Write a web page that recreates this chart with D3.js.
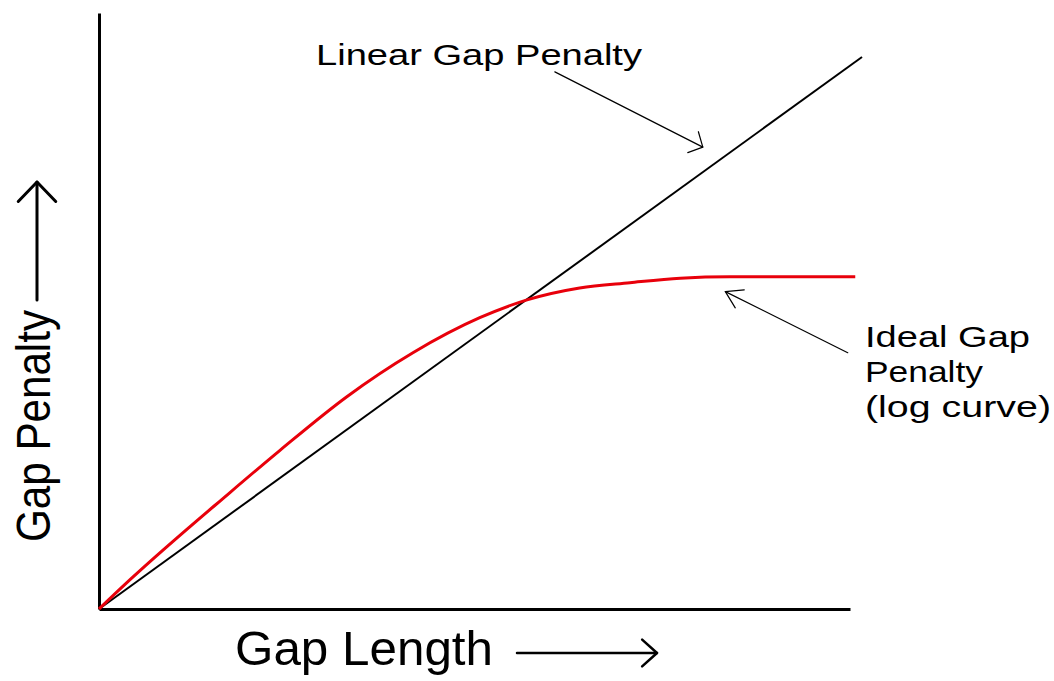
<!DOCTYPE html>
<html>
<head>
<meta charset="utf-8">
<script src="https://cdn.jsdelivr.net/npm/d3@7/dist/d3.min.js"></script>
<style>
  html, body { margin: 0; padding: 0; background: #fff; }
  svg { display: block; }
  text { font-family: "Liberation Sans", Arial, sans-serif; fill: #000; }
</style>
</head>
<body>
<svg id="chart" width="1054" height="681"></svg>
<script>
// Gap penalty sketch: linear vs. ideal (log) gap penalty
(function() {
    'use strict';

    // Linear gap penalty (straight line from origin)
    const linearX = [0, 10.16];
    const linearY = [0, 7.41];

    // Ideal gap penalty (log-like curve)
    const idealX = [0, 0.41, 1.74, 2.41, 3.30, 4.18, 5.07, 5.70, 6.40, 7.07, 7.74, 8.40, 10.07];
    const idealY = [0, 0.39, 1.56, 2.13, 2.85, 3.44, 3.91, 4.15, 4.31, 4.38, 4.44, 4.46, 4.46];

    // Annotation arrows in data units: [tailX, tailY, tipX, tipY]
    const linearPointer = [6.07, 7.21, 8.04, 6.20];
    const idealPointer = [9.97, 3.44, 8.34, 4.26];

    const xLabel = 'Gap Length';
    const yLabel = 'Gap Penalty';
    const linearLabel = ['Linear Gap Penalty'];
    const idealLabel = ['Ideal Gap', 'Penalty', '(log curve)'];

    const svg = d3.select('#chart');

    const x = d3.scaleLinear().domain([0, 10]).range([99, 850]);
    const y = d3.scaleLinear().domain([0, 8]).range([609, 13]);

    // Axes without ticks, just the lines
    svg.append('g')
        .attr('transform', `translate(0,${y(0)})`)
        .call(d3.axisBottom(x).tickValues([]).tickSizeOuter(0))
        .select('.domain')
        .attr('stroke', '#000')
        .attr('stroke-width', 3);

    svg.append('g')
        .attr('transform', `translate(${x(0)},0)`)
        .call(d3.axisLeft(y).tickValues([]).tickSizeOuter(0))
        .select('.domain')
        .attr('stroke', '#000')
        .attr('stroke-width', 3);

    const line = d3.line()
        .x(d => x(d[0]))
        .y(d => y(d[1]));

    // Linear penalty line
    svg.append('path')
        .datum(linearX.map((v, i) => [v, linearY[i]]))
        .attr('fill', 'none')
        .attr('stroke', '#000')
        .attr('stroke-width', 2)
        .attr('d', line);

    // Ideal penalty curve
    svg.append('path')
        .datum(idealX.map((v, i) => [v, idealY[i]]))
        .attr('fill', 'none')
        .attr('stroke', '#e8000b')
        .attr('stroke-width', 3)
        .attr('d', line.curve(d3.curveMonotoneX));

    // Arrow with open chevron head
    function arrow(x1, y1, x2, y2, len, deg, width) {
        const a = Math.atan2(y1 - y2, x1 - x2);
        const r = deg * Math.PI / 180;
        const g = svg.append('g')
            .attr('fill', 'none')
            .attr('stroke', '#000')
            .attr('stroke-width', width)
            .attr('stroke-linecap', 'round')
            .attr('stroke-linejoin', 'round');
        g.append('line')
            .attr('x1', x1).attr('y1', y1)
            .attr('x2', x2).attr('y2', y2);
        g.append('path')
            .attr('d', `M${x2 + len * Math.cos(a + r)},${y2 + len * Math.sin(a + r)}` +
                `L${x2},${y2}` +
                `L${x2 + len * Math.cos(a - r)},${y2 + len * Math.sin(a - r)}`);
    }

    arrow(x(linearPointer[0]), y(linearPointer[1]), x(linearPointer[2]), y(linearPointer[3]), 16, 47, 1.2);
    arrow(x(idealPointer[0]), y(idealPointer[1]), x(idealPointer[2]), y(idealPointer[3]), 19, 32, 1.2);

    // Axis label arrows
    arrow(517, 653, 657, 653, 20, 42, 2.5);
    arrow(37, 300, 37, 182, 27, 44, 3);

    // Labels
    svg.append('text')
        .attr('x', 235).attr('y', 665)
        .attr('font-size', 48)
        .attr('textLength', 258)
        .attr('lengthAdjust', 'spacingAndGlyphs')
        .text(xLabel);

    svg.append('text')
        .attr('transform', 'translate(50,542) rotate(-90)')
        .attr('font-size', 48)
        .attr('textLength', 232)
        .attr('lengthAdjust', 'spacingAndGlyphs')
        .text(yLabel);

    svg.append('text')
        .attr('x', 316).attr('y', 65)
        .attr('font-size', 30)
        .attr('textLength', 326)
        .attr('lengthAdjust', 'spacingAndGlyphs')
        .text(linearLabel[0]);

    const idealBase = [347, 382, 417];
    const idealLen = [165, 118, 186];
    idealLabel.forEach((t, i) => {
        svg.append('text')
            .attr('x', 865).attr('y', idealBase[i])
            .attr('font-size', 30)
            .attr('textLength', idealLen[i])
            .attr('lengthAdjust', 'spacingAndGlyphs')
            .text(t);
    });
})();
</script>
</body>
</html>
